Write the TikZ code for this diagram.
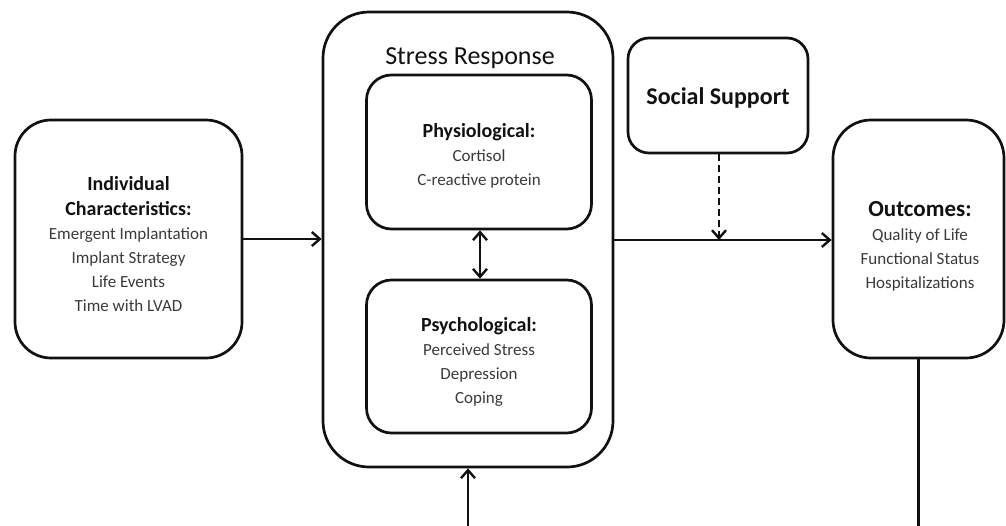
\documentclass[tikz,border=0pt]{standalone}
\usepackage{fontspec}
\setmainfont{Carlito}
\usetikzlibrary{arrows.meta}
\definecolor{ink}{HTML}{111111}
\definecolor{body}{HTML}{3A3A3A}
\begin{document}
\begin{tikzpicture}[x=1pt,y=-1pt,
  box/.style={draw=ink, line width=2.7pt, inner sep=0pt},
  txt/.style={align=center, inner sep=0pt, text=body, font=\fontsize{17}{24}\selectfont},
  tip/.style={Straight Barb[length=8pt,width=14pt,line width=2.4pt]},
  conn/.style={draw=ink, line width=2.6pt, -{Straight Barb[length=8pt,width=14pt,line width=2.4pt]}},
  both/.style={draw=ink, line width=2.6pt, {Straight Barb[length=8pt,width=14pt,line width=2.4pt]}-{Straight Barb[length=8pt,width=14pt,line width=2.4pt]}}
]
\useasboundingbox (0,0) rectangle (1006,525);

% boxes
\node[box, rounded corners=36pt, minimum width=227pt, minimum height=238pt] (ind) at (128.5,239) {};
\node[box, rounded corners=46pt, minimum width=290pt, minimum height=455pt] (stress) at (468,239.5) {};
\node[box, rounded corners=25pt, minimum width=225pt, minimum height=154pt] (phys) at (479,152) {};
\node[box, rounded corners=25pt, minimum width=225pt, minimum height=153pt] (psych) at (479,356.5) {};
\node[box, rounded corners=21pt, minimum width=180pt, minimum height=115pt] (social) at (718,95.5) {};
\node[box, rounded corners=38pt, minimum width=171pt, minimum height=238pt] (out) at (918.5,239) {};

% texts
\node[txt] (indtxt) at (128.5,244) {{\fontsize{20}{27}\selectfont\bfseries\color{ink}Individual}\\[1pt]
  {\fontsize{20}{27}\selectfont\bfseries\color{ink}Characteristics:}\\
  Emergent Implantation\\ Implant Strategy\\ Life Events\\ Time with LVAD};
\node[txt, text=ink, font=\fontsize{26}{30}\selectfont] (stresstxt) at (470,58) {Stress Response};
\node[txt] (phystxt) at (479,156) {{\fontsize{20}{27}\selectfont\bfseries\color{ink}Physiological:}\\
  Cortisol\\ C-reactive protein};
\node[txt] (psychtxt) at (479,362) {{\fontsize{20}{27}\selectfont\bfseries\color{ink}Psychological:}\\
  Perceived Stress\\ Depression\\ Coping};
\node[txt, text=ink, font=\fontsize{24}{28}\selectfont\bfseries] (socialtxt) at (718,98) {Social Support};
\node[txt] (outtxt) at (920,246) {{\fontsize{23}{27}\selectfont\bfseries\color{ink}Outcomes:}\\
  Quality of Life\\ Functional Status\\ Hospitalizations};

% connectors
\coordinate (mid) at (719,240);
\coordinate (fb) at (0,528);
\draw[conn] (ind.east |- 0,239) -- (stress.west |- 0,239);
\draw[conn] (stress.east |- 0,240) -- (out.west |- 0,240);
\draw[both] (phys.south -| 480,0) -- (psych.north -| 480,0);
\draw[conn, dash pattern=on 7pt off 4pt] (social.south -| mid) -- (mid);
\draw[conn] (out.south) -- (out.south |- fb) -| (stress.south);
\end{tikzpicture}
\end{document}
